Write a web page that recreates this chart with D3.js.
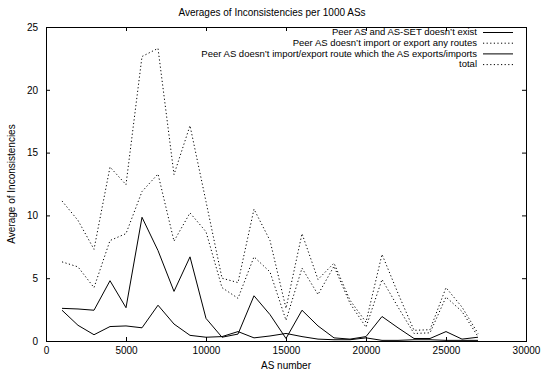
<!DOCTYPE html>
<html>
<head>
<meta charset="utf-8">
<script src="https://cdn.jsdelivr.net/npm/d3@7"></script>
<style>
  body { margin: 0; background: #fff; }
  text { font-family: "Liberation Sans", Arial, sans-serif; }
</style>
</head>
<body>
<div id="figure"></div>
<script>
const width = 550,
      height = 374;

// Data: averages per block of 1000 ASs.
const asNumbers = [1000, 2000, 3000, 4000, 5000, 6000, 7000, 8000, 9000, 10000,
                   11000, 12000, 13000, 14000, 15000, 16000, 17000, 18000, 19000, 20000,
                   21000, 22000, 23000, 24000, 25000, 26000, 27000];
const noExist = [2.45, 1.25, 0.5, 1.15, 1.2, 1.05, 2.85, 1.35, 0.45, 0.3,
                 0.35, 0.75, 0.25, 0.4, 0.6, 0.35, 0.15, 0.1, 0.1, 0.25,
                 0.05, 0.05, 0.1, 0.1, 0.05, 0.05, 0.05];
const noImportExport = [6.3, 5.9, 4.25, 8.0, 8.55, 11.9, 13.3, 7.95, 10.2, 8.7,
                        4.25, 3.4, 6.7, 5.5, 1.65, 5.8, 3.7, 5.95, 3.0, 1.1,
                        4.9, 2.7, 0.6, 0.65, 3.5, 2.35, 0.35];
const noRoute = [2.6, 2.55, 2.45, 4.8, 2.65, 9.85, 7.2, 3.95, 6.7, 1.8,
                 0.3, 0.55, 3.6, 2.1, 0.2, 2.45, 1.2, 0.25, 0.15, 0.35,
                 1.95, 1.05, 0.2, 0.2, 0.75, 0.15, 0.3];
const total = [11.15, 9.6, 7.3, 13.85, 12.45, 22.65, 23.3, 13.25, 17.15, 11.1,
               5.0, 4.65, 10.5, 8.0, 2.6, 8.55, 4.9, 6.2, 3.25, 1.5,
               6.9, 3.8, 0.85, 0.9, 4.25, 2.7, 0.6];

const seriesNames = ["Peer AS and AS-SET doesn\u2019t exist",
                     "Peer AS doesn\u2019t import or export any routes",
                     "Peer AS doesn\u2019t import/export route which the AS exports/imports",
                     "total"];
const xTicks = [0, 5000, 10000, 15000, 20000, 25000, 30000];
const yTicks = [0, 5, 10, 15, 20, 25];

const series = [
  {name: seriesNames[0], values: noExist, dash: null},
  {name: seriesNames[1], values: noImportExport, dash: "1.2,2.4"},
  {name: seriesNames[2], values: noRoute, dash: null},
  {name: seriesNames[3], values: total, dash: "1.2,2.4"}
];

const svg = d3.select("#figure").append("svg")
    .attr("width", width)
    .attr("height", height);

const x = d3.scaleLinear().domain([0, 30000]).range([46, 526]);
const y = d3.scaleLinear().domain([0, 25]).range([341, 27]);

// Axes with inward ticks on all four sides (gnuplot style).
function styleAxis(g) {
  g.select(".domain").remove();
  g.selectAll("line").attr("stroke", "#000");
  g.selectAll("text").attr("fill", "#000").style("font-size", "10px");
}

svg.append("g")
    .attr("transform", `translate(0,${y(0)})`)
    .call(d3.axisBottom(x).tickValues(xTicks).tickSize(-4).tickPadding(6)
        .tickFormat(d3.format("d")))
    .call(styleAxis);

svg.append("g")
    .attr("transform", `translate(0,${y(25)})`)
    .call(d3.axisTop(x).tickValues(xTicks).tickSize(-4).tickFormat(""))
    .call(styleAxis);

svg.append("g")
    .attr("transform", `translate(${x(0)},0)`)
    .call(d3.axisLeft(y).tickValues(yTicks).tickSize(-4).tickPadding(8))
    .call(styleAxis);

svg.append("g")
    .attr("transform", `translate(${x(30000)},0)`)
    .call(d3.axisRight(y).tickValues(yTicks).tickSize(-4).tickFormat(""))
    .call(styleAxis);

// Frame.
svg.append("rect")
    .attr("x", x(0) + 0.5)
    .attr("y", y(25) + 0.5)
    .attr("width", x(30000) - x(0))
    .attr("height", y(0) - y(25))
    .attr("fill", "none")
    .attr("stroke", "#000");

// Lines.
const line = d3.line()
    .x((d, i) => x(asNumbers[i]))
    .y(d => y(d));

svg.append("g")
    .selectAll("path")
    .data(series)
    .join("path")
      .attr("d", d => line(d.values))
      .attr("fill", "none")
      .attr("stroke", "#000")
      .attr("stroke-width", 1)
      .attr("stroke-dasharray", d => d.dash);

// Legend, top right, right-aligned text with line sample.
const legend = svg.append("g");
series.forEach((s, i) => {
  const ly = 32 + i * 10.7;
  legend.append("text")
      .attr("x", 477)
      .attr("y", ly)
      .attr("dy", "0.35em")
      .attr("text-anchor", "end")
      .style("font-size", "9.5px")
      .text(s.name);
  legend.append("line")
      .attr("x1", 483)
      .attr("x2", 513)
      .attr("y1", ly + 0.5)
      .attr("y2", ly + 0.5)
      .attr("stroke", "#000")
      .attr("stroke-dasharray", s.dash);
});

// Title and axis labels.
svg.append("text")
    .attr("x", 272)
    .attr("y", 16)
    .attr("text-anchor", "middle")
    .style("font-size", "10px")
    .text("Averages of Inconsistencies per 1000 ASs");

svg.append("text")
    .attr("x", 286)
    .attr("y", 369)
    .attr("text-anchor", "middle")
    .style("font-size", "10px")
    .text("AS number");

svg.append("text")
    .attr("transform", "translate(15,184) rotate(-90)")
    .attr("text-anchor", "middle")
    .style("font-size", "10px")
    .text("Average of Inconsistencies");
</script>
</body>
</html>
